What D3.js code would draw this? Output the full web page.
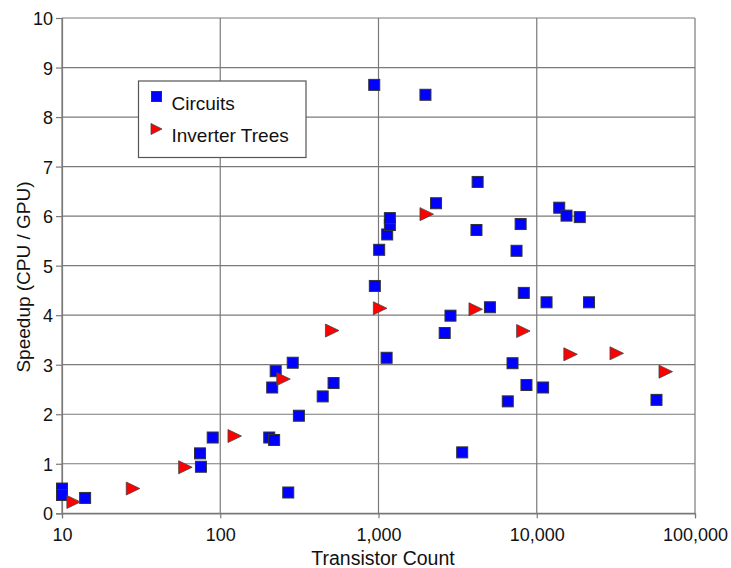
<!DOCTYPE html>
<html>
<head>
<meta charset="utf-8">
<script src="https://cdn.jsdelivr.net/npm/d3@7"></script>
<style>
  html, body { margin: 0; padding: 0; background: #fff; }
  svg { display: block; font-family: "Liberation Sans", Arial, sans-serif; }
</style>
</head>
<body>
<svg id="chart" width="731" height="568"></svg>
<script>
// ---- Data ----
const circuitsX = [10, 10, 14, 74.5, 75.5, 89.6, 204, 219, 213, 224, 287, 269, 314, 444, 520,
  940, 948, 1010, 1135, 1180, 1180, 1125, 1980, 2310, 2620, 2850, 3380, 4230, 4160, 5060,
  6560, 7030, 7450, 7910, 8280, 8610, 10970, 11530, 13870, 15420, 18700, 21400, 57100];
const circuitsY = [0.50, 0.37, 0.31, 1.21, 0.94, 1.53, 1.53, 1.48, 2.54, 2.87, 3.04, 0.42, 1.97, 2.36, 2.63,
  8.65, 4.59, 5.32, 5.63, 5.82, 5.96, 3.14, 8.45, 6.26, 3.64, 3.99, 1.23, 6.69, 5.72, 4.16,
  2.26, 3.03, 5.30, 5.84, 4.45, 2.59, 2.54, 4.26, 6.17, 6.01, 5.98, 4.26, 2.29];
const invX = [11.8, 28, 60, 123, 250, 508, 1020, 2010, 4100, 8200, 16300, 31900, 65100];
const invY = [0.23, 0.50, 0.93, 1.56, 2.71, 3.69, 4.14, 6.04, 4.12, 3.68, 3.21, 3.23, 2.86];
const xTicks = [10, 100, 1000, 10000, 100000];
const yTicks = [0, 1, 2, 3, 4, 5, 6, 7, 8, 9, 10];
const seriesNames = ["Circuits", "Inverter Trees"];
const xTitle = "Transistor Count";
const yTitle = "Speedup (CPU / GPU)";

// ---- Layout ----
const svg = d3.select("#chart");
const L = 62, R = 695, T = 18, B = 513.3;
const x = d3.scaleLog().domain([10, 100000]).range([L, R]);
const y = d3.scaleLinear().domain([0, 10]).range([B, T]);
const gridColor = "#7a7a7a";

// gridlines
const g = svg.append("g");
g.selectAll(".hg").data(yTicks).enter().append("line")
  .attr("x1", L).attr("x2", R).attr("y1", d => y(d)).attr("y2", d => y(d))
  .attr("stroke", gridColor).attr("stroke-width", 1.2);
g.selectAll(".vg").data(xTicks).enter().append("line")
  .attr("y1", T).attr("y2", B).attr("x1", d => x(d)).attr("x2", d => x(d))
  .attr("stroke", gridColor).attr("stroke-width", 1.2);

// axes
const fmt = d3.format(",");
const xAxis = d3.axisBottom(x).tickValues(xTicks).tickFormat(fmt).tickSize(5).tickPadding(10);
const yAxis = d3.axisLeft(y).tickValues(yTicks).tickFormat(d3.format("d")).tickSize(6).tickPadding(3);
const gx = svg.append("g").attr("transform", `translate(0,${B})`).call(xAxis);
const gy = svg.append("g").attr("transform", `translate(${L},0)`).call(yAxis);
[gx, gy].forEach(a => {
  a.select(".domain").attr("stroke", gridColor).attr("stroke-width", 1.2);
  a.selectAll(".tick line").attr("stroke", gridColor).attr("stroke-width", 1.2);
  a.selectAll(".tick text").attr("fill", "#111").style("font-size", "18px")
    .style("font-family", "'Liberation Sans', Arial, sans-serif");
});
gy.selectAll(".tick text").attr("dy", "0.36em");

// axis titles
svg.append("text").attr("x", 383).attr("y", 565)
  .attr("text-anchor", "middle").style("font-size", "19.5px").attr("fill", "#111").text(xTitle);
svg.append("text").attr("transform", "translate(30,277) rotate(-90)")
  .attr("text-anchor", "middle").style("font-size", "19px").attr("fill", "#111").text(yTitle);

// markers
const sq = 11;
svg.append("g").selectAll("rect").data(circuitsX.map((d, i) => [d, circuitsY[i]])).enter()
  .append("rect")
  .attr("x", d => x(d[0]) - sq / 2).attr("y", d => y(d[1]) - sq / 2)
  .attr("width", sq).attr("height", sq)
  .attr("fill", "#0000ff").attr("stroke", "#333").attr("stroke-width", 1);

svg.append("g").selectAll("path").data(invX.map((d, i) => [d, invY[i]])).enter()
  .append("path")
  .attr("d", "M-6.5,-6.5 L7,0 L-6.5,6.5 Z")
  .attr("transform", d => `translate(${x(d[0])},${y(d[1])})`)
  .attr("fill", "#ff0000").attr("stroke", "#444").attr("stroke-width", 0.8);

// legend
const lg = svg.append("g");
lg.append("rect").attr("x", 138.5).attr("y", 81).attr("width", 167.5).attr("height", 76.5)
  .attr("fill", "#fff").attr("stroke", "#555").attr("stroke-width", 1.2);
lg.append("rect").attr("x", 151.5).attr("y", 91.5).attr("width", 10).attr("height", 10)
  .attr("fill", "#0000ff").attr("stroke", "#333").attr("stroke-width", 1);
lg.append("path").attr("d", "M-5,-5.5 L6,0 L-5,5.5 Z").attr("transform", "translate(156,129)")
  .attr("fill", "#ff0000").attr("stroke", "#444").attr("stroke-width", 0.8);
lg.append("text").attr("x", 171.5).attr("y", 110).style("font-size", "19px").attr("fill", "#111").text(seriesNames[0]);
lg.append("text").attr("x", 171.5).attr("y", 142).style("font-size", "19px").attr("fill", "#111").text(seriesNames[1]);
</script>
</body>
</html>
